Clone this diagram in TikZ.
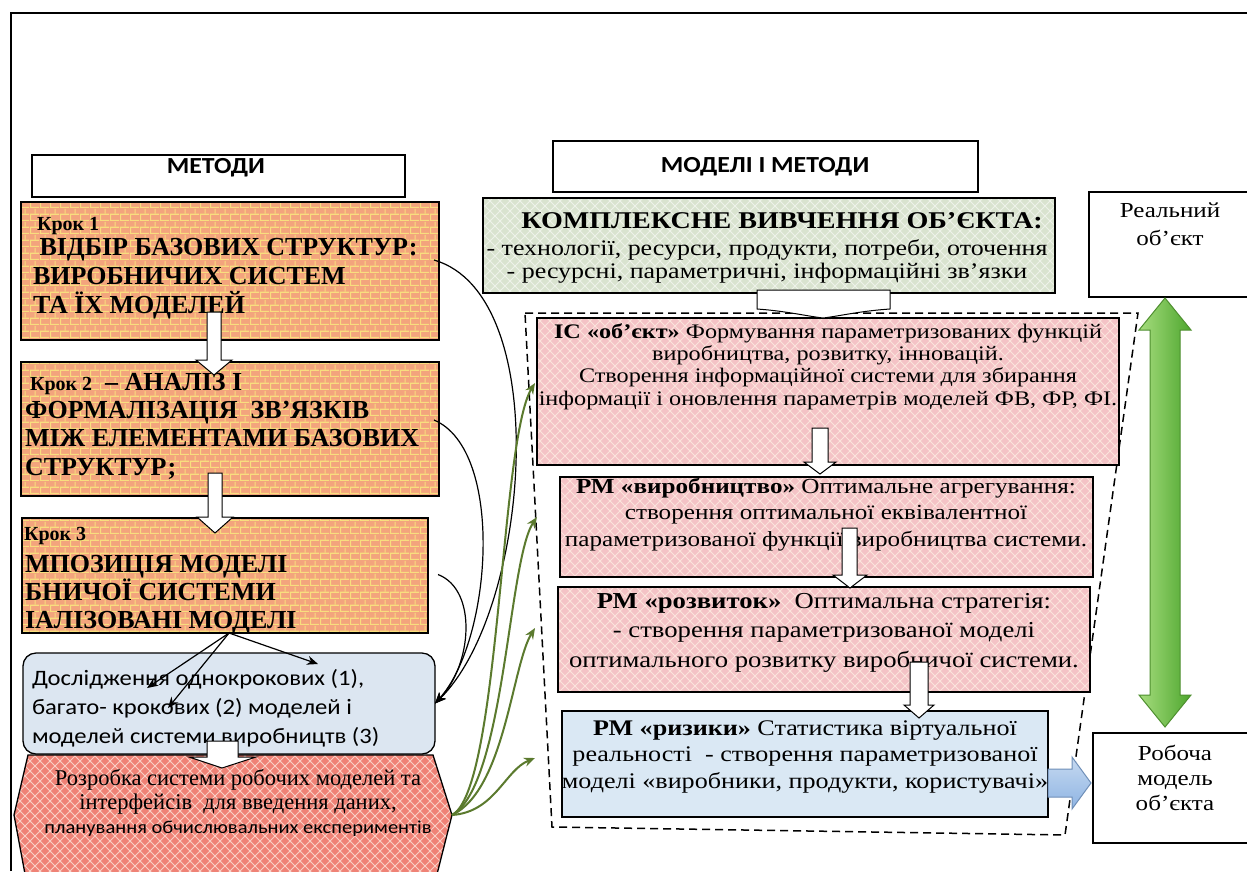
\documentclass[tikz,border=0pt]{standalone}
\usepackage{fontspec}
\setmainfont{Liberation Serif}
\newfontfamily\calfont{Carlito}
\newfontfamily\wideserif[FakeStretch=1.17]{Liberation Serif}
\newfontfamily\widesans[FakeStretch=1.12]{Carlito}
\usetikzlibrary{patterns.meta,arrows.meta,calc}

\newcommand\setfs[2]{\fontsize{#1}{#2}\selectfont}

% small brick wall (mortar lines drawn in the pattern colour)
\tikzdeclarepattern{
  name=brickwall, type=uncolored,
  bounding box={(0pt,0pt) and (10pt,13pt)},
  tile size={(10pt,13pt)},
  code={
    \fill (0pt,0pt) rectangle (10pt,1.3pt);
    \fill (0pt,6.5pt) rectangle (10pt,7.8pt);
    \fill (0pt,1.3pt) rectangle (1.2pt,6.5pt);
    \fill (5pt,7.8pt) rectangle (6.2pt,13pt);
  }}

% diagonal lattice
\tikzdeclarepattern{
  name=lattice, type=uncolored,
  bounding box={(-1pt,-1pt) and (11pt,11pt)},
  tile size={(10pt,10pt)},
  code={
    \draw[line width=1pt] (-1pt,-1pt) -- (11pt,11pt) (-1pt,11pt) -- (11pt,-1pt);
  }}

\definecolor{brick}{HTML}{F3A47D}
\definecolor{mortar}{HTML}{F8DE7E}
\definecolor{pinkfill}{HTML}{F4C3C6}
\definecolor{pinkline}{HTML}{FBE4DC}
\definecolor{salmon}{HTML}{EF8276}
\definecolor{salmonline}{HTML}{F9D0C6}
\definecolor{sage}{HTML}{D9E3CF}
\definecolor{sageline}{HTML}{EEF2E9}
\definecolor{paleblue}{HTML}{DCE6F1}
\definecolor{riskblue}{HTML}{DAE8F4}
\definecolor{olive}{HTML}{5B7A2E}
\definecolor{greenedge}{HTML}{4E8F2F}
\definecolor{greenlight}{HTML}{A6DC7E}
\definecolor{greendark}{HTML}{4EA72E}
\definecolor{bluelight}{HTML}{C6D9F0}
\definecolor{bluedark}{HTML}{8EB4E3}
\definecolor{blueedge}{HTML}{6F8FB8}

\tikzset{
  frame/.style={draw=black, line width=1.3pt, inner sep=0pt, outer sep=0pt, anchor=north west},
  brickbox/.style={frame, preaction={fill=brick}, pattern=brickwall, pattern color=mortar},
  pinkbox/.style={frame, preaction={fill=pinkfill}, pattern=lattice, pattern color=pinkline},
  sagebox/.style={frame, preaction={fill=sage}, pattern=lattice, pattern color=sageline},
  plainbox/.style={frame, fill=white},
  riskbox/.style={frame, fill=riskblue},
  resbox/.style={frame, fill=paleblue, rounded corners=13pt},
  txt/.style={inner sep=0pt, outer sep=0pt},
  blockarrow/.style={draw=black, line width=1pt, fill=white},
  darrow/.style={-{Stealth[length=11pt,width=9pt]}, line width=1.2pt},
  garrow/.style={-{Stealth[length=11pt,width=9pt]}, line width=2pt, draw=olive},
  zone/.style={dash pattern=on 8pt off 5pt, line width=1.5pt},
}

\begin{document}
\begin{tikzpicture}[x=1pt,y=-1pt]
\useasboundingbox (0,0) rectangle (1247,871);
\clip (0,0) rectangle (1247,871);
\fill[white] (0,0) rectangle (1247,871);

% outer frame
\draw[line width=1.5pt] (11,871) -- (11,13) -- (1247,13);

% multi-line text nodes are placed by the baseline of their last line

% ---------- left column: methods ----------
\node[plainbox, minimum width=373pt, minimum height=42pt] (hm) at (32,155) {};
\node[txt, anchor=base, font=\widesans\setfs{23}{26}\bfseries] (hmt) at (216,173) {МЕТОДИ};

\node[brickbox, minimum width=418pt, minimum height=138pt] (k1) at (21,202) {};
\node[txt, anchor=base west, font=\setfs{20}{24}\bfseries] (k1a) at (37,230) {Крок 1};
\node[txt, anchor=base west, align=left, font=\setfs{26}{29}\bfseries] (k1b) at (33,313)
  {\ ВІДБІР БАЗОВИХ СТРУКТУР:\\ВИРОБНИЧИХ СИСТЕМ\\ТА ЇХ МОДЕЛЕЙ};

\node[brickbox, minimum width=418pt, minimum height=134pt] (k2) at (21,362) {};
\node[txt, anchor=base west, font=\setfs{26}{28}\bfseries] (k2a) at (30,390)
  {{\setfs{20}{24}Крок 2}\ \ – АНАЛІЗ І};
\node[txt, anchor=base west, align=left, font=\setfs{26}{28.5}\bfseries] (k2b) at (25,475)
  {ФОРМАЛІЗАЦІЯ\ \ ЗВ’ЯЗКІВ\\МІЖ ЕЛЕМЕНТАМИ БАЗОВИХ\\СТРУКТУР;};

\node[brickbox, minimum width=406pt, minimum height=115pt] (k3) at (22,518) {};
\node[txt, anchor=base west, font=\setfs{20}{24}\bfseries] (k3a) at (24,540) {Крок 3};
\node[txt, anchor=base west, align=left, font=\setfs{26}{28}\bfseries] (k3b) at (25,628)
  {МПОЗИЦІЯ МОДЕЛІ\\БНИЧОЇ СИСТЕМИ\\ІАЛІЗОВАНІ МОДЕЛІ};

\node[resbox, minimum width=412pt, minimum height=101pt] (res) at (23,653) {};
\node[txt, anchor=base west, align=left, font=\widesans\setfs{22}{29}] (rest) at (32,743)
  {Дослідження однокрокових (1),\\багато- крокових (2) моделей і\\моделей системи виробництв (3)};

% hexagon: working models
\path[draw=black, line width=1.3pt, preaction={fill=salmon}, pattern=lattice, pattern color=salmonline]
  (28,755) -- (433,755) -- (452,815) -- (433,890) -- (28,890) -- (14,815) -- cycle;
\coordinate (hexR) at (452,815);
\node[txt, anchor=base, align=center, font=\setfs{22.5}{24}] (hex) at (238,833)
  {Розробка системи робочих моделей та\\інтерфейсів\ \ для введення даних,\\{\widesans\setfs{18.3}{24}планування обчислювальних експериментів}};

% ---------- right column: models and methods ----------
\node[plainbox, minimum width=425pt, minimum height=51pt] (hmm) at (553,141) {};
\node[txt, anchor=base, font=\widesans\setfs{23}{26}\bfseries] (hmmt) at (765,172) {МОДЕЛІ І МЕТОДИ};

\node[sagebox, minimum width=572pt, minimum height=95pt] (cs) at (483,198) {};
\node[txt, anchor=base, font=\wideserif\setfs{24}{27}\bfseries] (csa) at (782,228) {КОМПЛЕКСНЕ ВИВЧЕННЯ ОБ’ЄКТА:};
\node[txt, anchor=base, align=center, font=\wideserif\setfs{22.2}{23}] (csb) at (767,278)
  {- технології, ресурси, продукти, потреби, оточення\\- ресурсні, параметричні, інформаційні зв’язки};

% dashed working zone
\draw[zone] (525,313) -- (1138,313) -- (1065,835) -- (552,827) -- cycle;

\node[pinkbox, minimum width=582pt, minimum height=147pt] (ic) at (537,318) {};
\node[txt, anchor=base, align=center, font=\wideserif\setfs{20.7}{22.3}] (ict) at (828,405)
  {\textbf{ІС «об’єкт»} Формування параметризованих функцій\\виробництва, розвитку, інновацій.\\Створення інформаційної системи для збирання\\інформації і оновлення параметрів моделей ФВ, ФР, ФІ.};

\node[pinkbox, minimum width=533pt, minimum height=100pt] (prod) at (560,477) {};
\node[txt, anchor=base, align=center, font=\wideserif\setfs{21.5}{26.5}] (prodt) at (826,546)
  {\textbf{РМ «виробництво»} Оптимальне агрегування:\\створення оптимальної еквівалентної\\параметризованої функції виробництва системи.};

\node[pinkbox, minimum width=532pt, minimum height=105pt] (dev) at (558,587) {};
\node[txt, anchor=base, align=center, font=\wideserif\setfs{22.8}{29.5}] (devt) at (824,667)
  {\textbf{РМ «розвиток»}\ \ Оптимальна стратегія:\\- створення параметризованої моделі\\оптимального розвитку виробничої системи.};

\node[riskbox, minimum width=486pt, minimum height=106pt] (risk) at (562,711) {};
\node[txt, anchor=base, align=center, font=\wideserif\setfs{22.3}{26.5}] (riskt) at (805,788)
  {\textbf{РМ «ризики»} Статистика віртуальної\\реальності\ \ - створення параметризованої\\моделі «виробники, продукти, користувачі»};

% ---------- object boxes ----------
\node[plainbox, minimum width=170pt, minimum height=105pt] (real) at (1089,192) {};
\node[txt, anchor=base, align=center, font=\wideserif\setfs{21.4}{28}] (realt) at (1170,245) {Реальний\\об’єкт};

\node[plainbox, minimum width=170pt, minimum height=110pt] (work) at (1093,733) {};
\node[txt, anchor=base, align=center, font=\wideserif\setfs{21.4}{25}] (workt) at (1175,810) {Робоча\\модель\\об’єкта};

% green two-way arrow
\draw[draw=greenedge, line width=1pt, left color=greenlight, right color=greendark]
  (1165,298) -- (1191,330) -- (1180,330) -- (1180,695) -- (1191,695) -- (1165,727)
  -- (1139,695) -- (1150,695) -- (1150,330) -- (1139,330) -- cycle;

% blue arrow to the working model
\draw[draw=blueedge, line width=1pt, top color=bluelight, bottom color=bluedark]
  (1048,769) -- (1072,769) -- (1072,757) -- (1091,783) -- (1072,809) -- (1072,797) -- (1048,797) -- cycle;

% ---------- white block arrows ----------
\draw[blockarrow] (207,312) -- (221,312) -- (221,360) -- (232,360) -- (214,375) -- (196,360) -- (207,360) -- cycle;
\draw[blockarrow] (208,473) -- (222,473) -- (222,517) -- (233,517) -- (215,533) -- (197,517) -- (208,517) -- cycle;
\draw[blockarrow] (207,741) -- (238,741) -- (238,757) -- (256,757) -- (222,768) -- (189,757) -- (207,757) -- cycle;
\draw[blockarrow] (757,290) -- (890,290) -- (890,309) .. controls (860,311) and (840,316) .. (823,318)
  .. controls (806,316) and (786,311) .. (757,309) -- cycle;
\draw[blockarrow] (812,428) -- (828,428) -- (828,462) -- (836,462) -- (820,474) -- (804,462) -- (812,462) -- cycle;
\draw[blockarrow] (842,528) -- (857,528) -- (857,575) -- (867,575) -- (850,588) -- (833,575) -- (842,575) -- cycle;
\draw[blockarrow] (910,662) -- (928,662) -- (928,705) -- (934,705) -- (919,718) -- (904,705) -- (910,705) -- cycle;

% ---------- connectors ----------
\coordinate (k3s) at ($(k3.south west)!0.51!(k3.south east)$);
\draw[darrow] (k3s) -- (147,688);
\draw[darrow] (k3s) -- (168,708);
\draw[darrow] (k3s) -- (318,664);

\draw[darrow] ($(k1.east)+(-5,-11)$) .. controls (555,295) and (530,610) .. (res.east);
\draw[darrow] ($(k2.east)+(-5,-9)$) .. controls (505,450) and (492,640) .. (res.east);
\draw[darrow] ($(k3.east)+(10,-1)$) .. controls (478,590) and (472,665) .. (res.east);

\coordinate (gIC) at (535,383);
\coordinate (gProd) at (537,517);
\coordinate (gDev) at (535,628);
\coordinate (gRisk) at (535,758);
\draw[garrow] (hexR) .. controls (500,790) and (500,440) .. (gIC);
\draw[garrow] (hexR) .. controls (505,785) and (508,560) .. (gProd);
\draw[garrow] (hexR) .. controls (505,790) and (512,665) .. (gDev);
\draw[garrow] (hexR) .. controls (495,812) and (505,770) .. (gRisk);
\end{tikzpicture}
\end{document}
